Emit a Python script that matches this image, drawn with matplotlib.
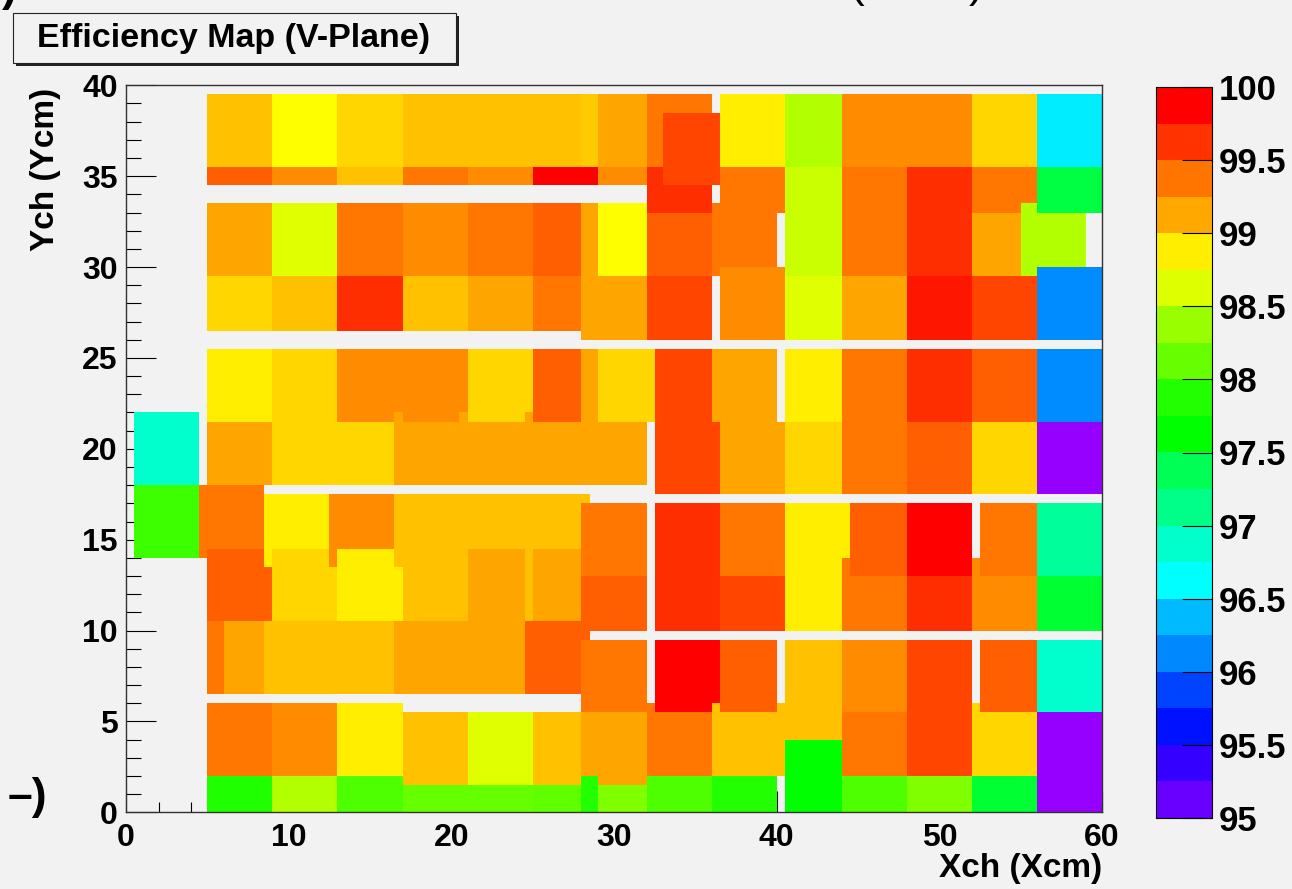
import colorsys
import numpy as np
import matplotlib
matplotlib.use('Agg')
import matplotlib.pyplot as plt
from matplotlib.collections import PatchCollection
from matplotlib.colors import ListedColormap, BoundaryNorm, Normalize
from matplotlib.patches import Rectangle
import matplotlib.cm as cm

plt.rcParams['font.family'] = ['Liberation Sans', 'DejaVu Sans']
plt.rcParams['font.weight'] = 'bold'

# efficiency cells: (x_lo, x_hi, y_lo, y_hi, efficiency %)
row_top = [
    (5, 9, 35.5, 39.5, 99.04), (9, 13, 35.5, 39.5, 98.79), (13, 17, 35.5, 39.5, 98.96),
    (17, 21, 35.5, 39.5, 99.04), (21, 25, 35.5, 39.5, 99.04), (25, 28, 35.5, 39.5, 99.04),
    (28, 29, 35.5, 39.5, 99.00), (29, 32, 35.5, 39.5, 99.15), (32, 36, 35.5, 39.5, 99.37),
    (33, 36.5, 34.5, 38.5, 99.56), (36.5, 40.5, 35.5, 39.5, 98.87), (40.5, 44, 35.5, 39.5, 98.46),
    (44, 48, 35.5, 39.5, 99.27), (48, 52, 35.5, 39.5, 99.27), (52, 56, 35.5, 39.5, 98.96),
    (56, 60, 35.5, 39.5, 96.56),
]
row_35 = [
    (5, 9, 34.5, 35.5, 99.46), (9, 13, 34.5, 35.5, 99.27), (13, 17, 34.5, 35.5, 99.04),
    (17, 21, 34.5, 35.5, 99.37), (21, 25, 34.5, 35.5, 99.27), (25, 29, 34.5, 35.5, 99.90),
    (29, 32, 34.5, 35.5, 99.27), (32, 36, 33, 35.5, 99.64), (36.5, 40.5, 33, 35.5, 99.37),
    (40.5, 44, 29.5, 35.5, 98.55), (44, 48, 29.5, 35.5, 99.37), (48, 52, 29.5, 35.5, 99.64),
    (52, 56, 33, 35.5, 99.37), (56, 60, 33, 35.5, 97.43),
]
row_31 = [
    (5, 9, 29.5, 33.5, 99.15), (9, 13, 29.5, 33.5, 98.64), (13, 17, 29.5, 33.5, 99.37),
    (17, 21, 29.5, 33.5, 99.27), (21, 25, 29.5, 33.5, 99.37), (25, 28, 29.5, 33.5, 99.46),
    (28, 29, 26, 33.5, 99.15), (29, 32, 29.5, 33.5, 98.79), (32, 36, 29.5, 33, 99.46),
    (36, 40, 29.5, 33.5, 99.37), (52, 55, 29.5, 33, 99.15), (55, 59, 29.5, 33.5, 98.46),
]
row_28 = [
    (5, 9, 26.5, 29.5, 98.96), (9, 13, 26.5, 29.5, 99.04), (13, 17, 26.5, 29.5, 99.64),
    (17, 21, 26.5, 29.5, 99.04), (21, 25, 26.5, 29.5, 99.15), (25, 28, 26.5, 29.5, 99.37),
    (29, 32, 26, 29.5, 99.15), (32, 36, 26, 29.5, 99.56), (36.5, 40.5, 26, 30, 99.27),
    (40.5, 44, 26, 29.5, 98.64), (44, 48, 26, 29.5, 99.15), (48, 52, 26, 29.5, 99.76),
    (52, 56, 26, 29.5, 99.56), (56, 60, 26, 30, 96.15),
]
row_23 = [
    (5, 9, 21.5, 25.5, 98.87), (9, 13, 21.5, 25.5, 98.96), (13, 17, 21.5, 25.5, 99.27),
    (17, 21, 21.5, 25.5, 99.27), (21, 25, 21.5, 25.5, 98.96), (25, 28, 21.5, 25.5, 99.46),
    (28, 29, 21.5, 25.5, 99.15), (29, 32.5, 21.5, 25.5, 98.96), (32.5, 36, 21.5, 25.5, 99.56),
    (36, 40, 21.5, 25.5, 99.15), (40.5, 44, 21.5, 25.5, 98.87), (44, 48, 17.5, 25.5, 99.37),
    (48, 52, 21.5, 25.5, 99.64), (52, 56, 21.5, 25.5, 99.46), (56, 60, 21.5, 25.5, 96.15),
]
row_20 = [
    (0.5, 4.5, 18, 22, 96.87), (5, 9, 18, 21.5, 99.15), (9, 13, 18, 21.5, 98.96),
    (12.5, 16.5, 18, 21.5, 98.96), (16.5, 20.5, 18, 22, 99.15), (20.5, 24.5, 18, 22, 99.15),
    (24.5, 28.5, 18, 22, 99.15), (28.5, 32, 18, 21.5, 99.15), (32.5, 36.5, 17.5, 21.5, 99.56),
    (36.5, 40.5, 17.5, 21.5, 99.15), (40.5, 44, 17.5, 21.5, 98.96), (48, 52, 17.5, 21.5, 99.46),
    (52, 56, 17.5, 21.5, 98.96), (56, 60, 17.5, 21.5, 95.01),
]
row_15 = [
    (0.5, 4.5, 14, 18, 97.97), (4.5, 8.5, 14, 18, 99.37), (8.5, 12.5, 13.5, 17.5, 98.87),
    (12.5, 16.5, 13.5, 17.5, 99.27), (16.5, 20.5, 13.5, 17.5, 99.04), (20.5, 24.5, 13.5, 17.5, 99.04),
    (24.5, 28.5, 13.5, 17.5, 99.04), (28, 32, 13, 17, 99.37), (32.5, 36.5, 10, 17, 99.64),
    (36.5, 40.5, 13, 17, 99.37), (40.5, 44.5, 13, 17, 98.87), (44.5, 48, 13, 17, 99.46),
    (48, 52, 13, 17, 99.90), (52.5, 56, 13, 17, 99.37), (56, 60, 13, 17, 97.06),
]
row_12 = [
    (5, 9, 10.5, 14.5, 99.46), (9, 13, 10.5, 14.5, 98.96), (13, 17, 10.5, 14.5, 98.87),
    (17, 21, 10.5, 14.5, 99.04), (21, 25, 10.5, 14.5, 99.15), (24.5, 25, 10.5, 13.5, 99.04),
    (25, 28, 10.5, 14.5, 99.15), (28, 32, 10, 13, 99.46), (36.5, 40.5, 10, 13, 99.56),
    (40.5, 44, 10, 14, 98.87), (44, 48, 10, 14, 99.37), (48, 52, 10, 13, 99.64),
    (52, 56, 10, 14, 99.27), (56, 60, 10, 13, 97.48),
]
row_8 = [
    (5, 6, 6.5, 10.5, 99.37), (6, 8.5, 6.5, 10.5, 99.15), (8.5, 12.5, 6.5, 10.5, 99.04),
    (12.5, 16.5, 6.5, 10.5, 99.04), (16.5, 20.5, 6.5, 10.5, 99.15), (20.5, 24.5, 6.5, 10.5, 99.15),
    (24.5, 28.5, 6.5, 10.5, 99.46), (28, 32, 5.5, 9.5, 99.37), (32.5, 36.5, 5.5, 9.5, 99.90),
    (36.5, 40, 5.5, 9.5, 99.46), (40.5, 44, 4, 9.5, 99.04), (44, 48, 5.5, 9.5, 99.27),
    (48, 52, 2, 9.5, 99.56), (52.5, 56, 5.5, 9.5, 99.46), (56, 60, 5.5, 9.5, 96.87),
]
row_4 = [
    (5, 9, 2, 6, 99.37), (9, 13, 2, 6, 99.27), (13, 17, 2, 6, 98.87),
    (17, 21, 1.5, 5.5, 99.04), (21, 25, 1.5, 5.5, 98.64), (25, 28, 1.5, 5.5, 99.04),
    (28, 29, 2, 5.5, 99.15), (29, 32, 1.5, 5.5, 99.15), (32, 36, 2, 6, 99.37),
    (36, 40.5, 2, 6, 99.04), (44, 48, 2, 5.5, 99.37), (52, 56, 2, 6, 98.96),
    (56, 60, 0, 5.5, 95.01),
]
row_1 = [
    (5, 9, 0, 2, 97.86), (9, 13, 0, 2, 98.46), (13, 17, 0, 2, 98.03),
    (17, 21, 0, 1.5, 98.12), (21, 25, 0, 1.5, 98.12), (25, 28, 0, 1.5, 98.10),
    (28, 29, 0, 2, 97.87), (29, 32, 0, 1.5, 98.25), (32, 36, 0, 2, 98.03),
    (36, 40, 0, 2, 97.87), (40.5, 44, 0, 4, 97.62), (44, 48, 0, 2, 98.03),
    (48, 52, 0, 2, 98.25), (52, 56, 0, 2, 97.48),
]

x_ticks = [0, 10, 20, 30, 40, 50, 60]
y_ticks = [0, 5, 10, 15, 20, 25, 30, 35, 40]
z_levels = np.arange(95, 100.001, 0.25)
z_ticks = np.arange(95, 100.001, 0.5)

# ROOT-like rainbow palette (value -> hue)
pal_val = [95.0, 95.125, 95.375, 95.625, 95.875, 96.125, 96.375, 96.625, 96.875, 97.125, 97.375,
           97.625, 97.875, 98.125, 98.375, 98.625, 98.875, 99.125, 99.375, 99.625, 99.875, 100.0]
pal_hue = [276, 264, 252, 236, 224, 208, 196, 180, 168, 152, 140,
           120, 112, 96, 84, 68, 56, 40, 28, 12, 0, 0]
vv = np.linspace(95, 100, 512)
hh = np.interp(vv, pal_val, pal_hue)
map_cmap = ListedColormap([colorsys.hsv_to_rgb(h / 360.0, 1, 1) for h in hh])
norm = Normalize(95, 100)

bg = '#f2f2f2'
fig = plt.figure(figsize=(12.92, 8.89), dpi=100, facecolor=bg)
ax = fig.add_axes([126 / 1292, 1 - 812.3 / 889, 976 / 1292, 727 / 889])
ax.set_facecolor(bg)

cells = row_top + row_35 + row_31 + row_28 + row_23 + row_20 + row_15 + row_12 + row_8 + row_4 + row_1
cells = sorted(cells, key=lambda c: c[0])
rects = [Rectangle((c[0], c[2]), c[1] - c[0], c[3] - c[2]) for c in cells]
pc = PatchCollection(rects, cmap=map_cmap, norm=norm, linewidth=0, antialiased=False)
pc.set_array(np.array([c[4] for c in cells]))
ax.add_collection(pc)

ax.set_xlim(0, 60)
ax.set_ylim(0, 40)
ax.set_axisbelow(True)
ax.set_xticks(x_ticks)
ax.set_yticks(y_ticks)
ax.set_xticks(np.arange(0, 61, 2), minor=True)
ax.set_yticks(np.arange(0, 41, 1), minor=True)
ax.tick_params(axis='y', which='major', direction='in', length=21.6, width=0.8, labelsize=23, pad=6)
ax.tick_params(axis='y', which='minor', direction='in', length=10.8, width=0.8)
ax.tick_params(axis='x', which='major', direction='in', length=15, width=0.8, labelsize=23, pad=8)
ax.tick_params(axis='x', which='minor', direction='in', length=7.2, width=0.8)
for s in ax.spines.values():
    s.set_color('#333333')
    s.set_linewidth(1.0)

fig.text(46 / 1292, 1 - 88 / 889, 'Ych (Ycm)', rotation=90, ha='center', va='top', fontsize=24)
fig.text(1102 / 1292, 1 - 868 / 889, 'Xch (Xcm)', ha='right', va='center', fontsize=24)

# colour scale
cax = fig.add_axes([1156 / 1292, 1 - 818 / 889, 56 / 1292, 731 / 889])
centers = (z_levels[:-1] + z_levels[1:]) / 2
cb_cmap = ListedColormap([map_cmap(norm(c)) for c in centers])
sm = cm.ScalarMappable(norm=BoundaryNorm(z_levels, len(centers)), cmap=cb_cmap)
cb = fig.colorbar(sm, cax=cax, ticks=z_ticks)
cb.ax.set_yticklabels([f'{t:g}' for t in z_ticks])
cb.ax.tick_params(direction='in', length=21.6, width=0.8, labelsize=25, pad=5)
cb.ax.minorticks_off()
cb.outline.set_linewidth(0.8)

# title box with shadow
fig.patches.append(Rectangle((16 / 1292, 1 - 66 / 889), 443 / 1292, 50 / 889, transform=fig.transFigure,
                             facecolor='#222222', edgecolor='none', zorder=1))
fig.patches.append(Rectangle((13 / 1292, 1 - 63 / 889), 443 / 1292, 50 / 889, transform=fig.transFigure,
                             facecolor=bg, edgecolor='#222222', linewidth=0.8, zorder=2))
fig.text(234 / 1292, 1 - 47 / 889, 'Efficiency Map (V-Plane)', ha='center', va='baseline', fontsize=24.5, zorder=3)

# pieces of neighbouring text cut by the page edge
fig.text(47 / 1292, 1 - 797 / 889, '–)', ha='right', va='center', fontsize=32)
fig.text(2 / 1292, 1 + 10 / 889, ')', ha='left', va='center', fontsize=32)
fig.text(857 / 1292, 1 + 14 / 889, '(', ha='center', va='center', fontsize=32, fontweight='normal')
fig.text(976 / 1292, 1 + 14 / 889, ')', ha='center', va='center', fontsize=32, fontweight='normal')

fig.savefig('out.png', dpi=100, facecolor=bg)
